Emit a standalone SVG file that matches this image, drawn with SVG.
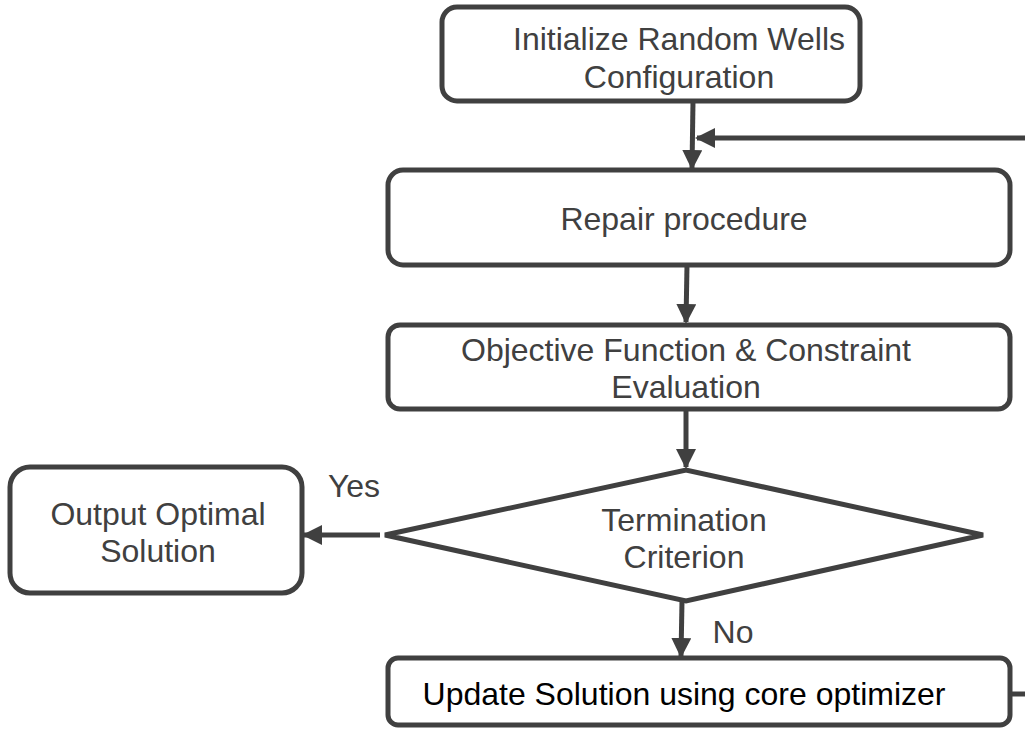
<svg xmlns="http://www.w3.org/2000/svg" width="1025" height="729" viewBox="0 0 1025 729">
<style>
.box{fill:#fff;stroke:#404040;stroke-width:5}
.t{font-family:"Liberation Sans",Arial,sans-serif;font-size:32px;fill:#404040;text-anchor:middle}
.c{stroke:#404040;stroke-width:5;fill:none}
</style>
<defs>
<marker id="ah" viewBox="0 0 10 10" refX="9" refY="5" markerWidth="4" markerHeight="4" orient="auto" markerUnits="strokeWidth">
<path d="M0,0 L10,5 L0,10 z" fill="#404040"/>
</marker>
</defs>
<rect width="1025" height="729" fill="#fff"/>
<g id="connectors">
<line class="c" x1="693" y1="101" x2="692" y2="168" marker-end="url(#ah)"/>
<line class="c" x1="1025" y1="138" x2="697" y2="138" marker-end="url(#ah)"/>
<line class="c" x1="687" y1="265" x2="686" y2="322" marker-end="url(#ah)"/>
<line class="c" x1="686" y1="409" x2="686" y2="467" marker-end="url(#ah)"/>
<line class="c" x1="380" y1="535" x2="304" y2="535" marker-end="url(#ah)"/>
<line class="c" x1="682" y1="601" x2="681" y2="656" marker-end="url(#ah)"/>
<line class="c" x1="1010" y1="694" x2="1025" y2="694"/>
<text class="t" x="354" y="497">Yes</text>
<text class="t" x="733" y="643">No</text>
</g>
<g id="init">
<rect class="box" x="442" y="7" width="418" height="94" rx="15"/>
<text class="t" x="679" y="50">Initialize Random Wells</text>
<text class="t" x="679" y="88">Configuration</text>
</g>
<g id="repair">
<rect class="box" x="388" y="170" width="622" height="95" rx="15"/>
<text class="t" x="684" y="230">Repair procedure</text>
</g>
<g id="eval">
<rect class="box" x="388" y="325" width="622" height="84" rx="12"/>
<text class="t" x="686" y="361">Objective Function &amp; Constraint</text>
<text class="t" x="686" y="398">Evaluation</text>
</g>
<g id="term">
<polygon class="box" points="385,535 686,470 983,535 686,601"/>
<text class="t" x="684" y="531">Termination</text>
<text class="t" x="684" y="568">Criterion</text>
</g>
<g id="output">
<rect class="box" x="10" y="467" width="292" height="126" rx="20"/>
<text class="t" x="158" y="525">Output Optimal</text>
<text class="t" x="158" y="562">Solution</text>
</g>
<g id="update">
<rect class="box" x="388" y="658" width="622" height="67" rx="10"/>
<text class="t" x="684" y="705" style="fill:#000">Update Solution using core optimizer</text>
</g>
</svg>
